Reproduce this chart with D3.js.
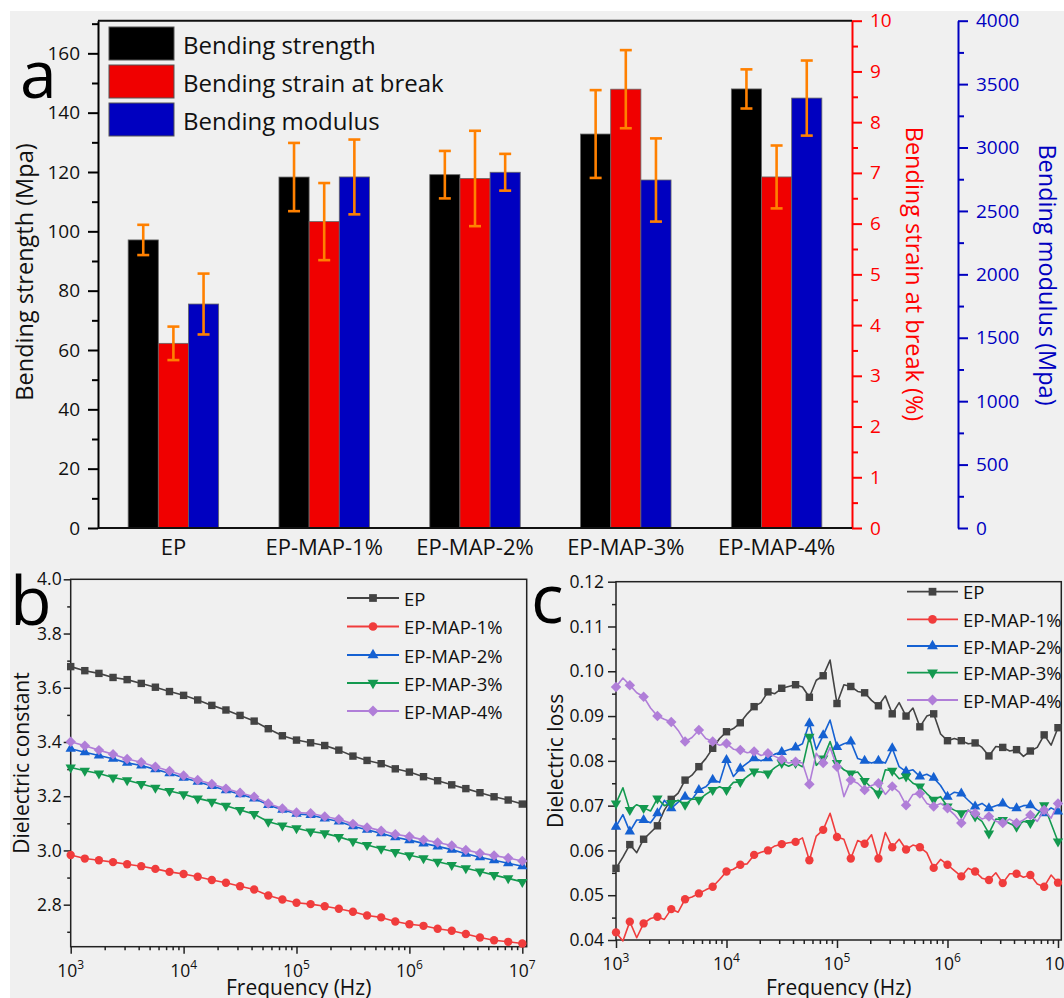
<!DOCTYPE html>
<html>
<head>
<meta charset="utf-8">
<script src="https://cdn.jsdelivr.net/npm/d3@7"></script>
<style>
  body { margin: 0; background: #fff; }
  svg { display: block; font-family: "Open Sans", sans-serif; }
</style>
</head>
<body>
<div id="chart"></div>
<script>
// ----------------- panel a data -----------------
var categories = ["EP", "EP-MAP-1%", "EP-MAP-2%", "EP-MAP-3%", "EP-MAP-4%"];
var strength = [97.1, 118.3, 119.1, 132.8, 148.0];
var strengthErr = [5.1, 11.5, 8.0, 14.8, 6.6];
var strain = [3.64, 6.04, 6.89, 8.65, 6.92];
var strainErr = [0.33, 0.76, 0.94, 0.77, 0.62];
var modulus = [1766, 2768, 2805, 2744, 3390];
var modulusErr = [240, 295, 145, 328, 296];
var barNames = ["Bending strength", "Bending strain at break", "Bending modulus"];
var barColors = ["#000000", "#f00000", "#0000c0"];

// ----------------- panel b / c data -----------------
var seriesNames = ["EP", "EP-MAP-1%", "EP-MAP-2%", "EP-MAP-3%", "EP-MAP-4%"];
var seriesColors = ["#434343", "#f03c3c", "#1561d2", "#13994f", "#b07ed8"];
var seriesSymbols = ["square", "circle", "up", "down", "diamond"];

// log10 of frequency, panel b (8 points per decade)
var logFreqB = [3, 3.125, 3.25, 3.375, 3.5, 3.625, 3.75, 3.875,
  4, 4.125, 4.25, 4.375, 4.5, 4.625, 4.75, 4.875,
  5, 5.125, 5.25, 5.375, 5.5, 5.625, 5.75, 5.875,
  6, 6.125, 6.25, 6.375, 6.5, 6.625, 6.75, 6.875, 7];

var epB = [3.678, 3.663, 3.653, 3.638, 3.630, 3.616, 3.602, 3.586, 3.572, 3.555, 3.535, 3.518, 3.498, 3.477, 3.449, 3.423,
  3.407, 3.397, 3.387, 3.370, 3.348, 3.332, 3.320, 3.301, 3.289, 3.272, 3.257, 3.242, 3.228, 3.213, 3.198, 3.186, 3.171];
var map1B = [2.983, 2.970, 2.964, 2.957, 2.949, 2.942, 2.932, 2.921, 2.913, 2.903, 2.891, 2.881, 2.868, 2.856, 2.834, 2.819,
  2.807, 2.802, 2.794, 2.785, 2.774, 2.760, 2.753, 2.738, 2.728, 2.722, 2.711, 2.704, 2.692, 2.679, 2.669, 2.663, 2.657];
var map2B = [3.375, 3.362, 3.350, 3.338, 3.323, 3.313, 3.299, 3.285, 3.268, 3.253, 3.238, 3.222, 3.207, 3.192, 3.168, 3.150,
  3.135, 3.131, 3.118, 3.107, 3.089, 3.076, 3.063, 3.049, 3.038, 3.026, 3.015, 3.003, 2.988, 2.975, 2.964, 2.953, 2.942];
var map3B = [3.306, 3.294, 3.284, 3.269, 3.259, 3.245, 3.231, 3.219, 3.207, 3.192, 3.180, 3.165, 3.149, 3.134, 3.106, 3.092,
  3.082, 3.070, 3.063, 3.050, 3.034, 3.020, 3.006, 2.994, 2.982, 2.971, 2.958, 2.946, 2.934, 2.922, 2.909, 2.897, 2.884];
var map4B = [3.401, 3.386, 3.370, 3.355, 3.337, 3.325, 3.309, 3.293, 3.276, 3.260, 3.245, 3.228, 3.213, 3.198, 3.173, 3.155,
  3.140, 3.137, 3.125, 3.115, 3.098, 3.085, 3.073, 3.060, 3.051, 3.039, 3.029, 3.018, 3.002, 2.990, 2.981, 2.972, 2.961];

// log10 of frequency, panel c (16 points per decade, marker on every 2nd)
var logFreqC = [3, 3.0625, 3.125, 3.1875, 3.25, 3.3125, 3.375, 3.4375, 3.5, 3.5625, 3.625, 3.6875, 3.75, 3.8125, 3.875, 3.9375,
  4, 4.0625, 4.125, 4.1875, 4.25, 4.3125, 4.375, 4.4375, 4.5, 4.5625, 4.625, 4.6875, 4.75, 4.8125, 4.875, 4.9375,
  5, 5.0625, 5.125, 5.1875, 5.25, 5.3125, 5.375, 5.4375, 5.5, 5.5625, 5.625, 5.6875, 5.75, 5.8125, 5.875, 5.9375,
  6, 6.0625, 6.125, 6.1875, 6.25, 6.3125, 6.375, 6.4375, 6.5, 6.5625, 6.625, 6.6875, 6.75, 6.8125, 6.875, 6.9375, 7];

var epC = [0.0560, 0.0585, 0.0613, 0.0595, 0.0625, 0.0640, 0.0655, 0.0690, 0.0714, 0.0728, 0.0757, 0.0768, 0.0787, 0.0805, 0.0828, 0.0850,
  0.0865, 0.0872, 0.0885, 0.0905, 0.0921, 0.0930, 0.0954, 0.0950, 0.0962, 0.0966, 0.0970, 0.0965, 0.0942, 0.0980, 0.0990, 0.1025,
  0.0928, 0.0970, 0.0966, 0.0955, 0.0952, 0.0935, 0.0923, 0.0945, 0.0905, 0.0930, 0.0900, 0.0918, 0.0876, 0.0900, 0.0905, 0.0860,
  0.0845, 0.0850, 0.0845, 0.0838, 0.0840, 0.0830, 0.0811, 0.0832, 0.0830, 0.0822, 0.0825, 0.0810, 0.0822, 0.0830, 0.0858, 0.0835, 0.0874];
var map1C = [0.0417, 0.0398, 0.0441, 0.0405, 0.0437, 0.0448, 0.0452, 0.0446, 0.0469, 0.0462, 0.0491, 0.0496, 0.0504, 0.0512, 0.0519, 0.0535,
  0.0553, 0.0558, 0.0568, 0.0570, 0.0590, 0.0596, 0.0600, 0.0610, 0.0614, 0.0617, 0.0619, 0.0628, 0.0578, 0.0632, 0.0646, 0.0683,
  0.0630, 0.0625, 0.0582, 0.0622, 0.0615, 0.0635, 0.0582, 0.0640, 0.0607, 0.0625, 0.0602, 0.0612, 0.0607, 0.0595, 0.0561, 0.0580,
  0.0568, 0.0555, 0.0542, 0.0560, 0.0553, 0.0538, 0.0534, 0.0550, 0.0527, 0.0548, 0.0548, 0.0540, 0.0545, 0.0525, 0.0519, 0.0545, 0.0528];
var map2C = [0.0653, 0.0680, 0.0642, 0.0668, 0.0668, 0.0662, 0.0683, 0.0712, 0.0694, 0.0708, 0.0720, 0.0714, 0.0735, 0.0742, 0.0758, 0.0752,
  0.0802, 0.0765, 0.0783, 0.0795, 0.0806, 0.0800, 0.0806, 0.0815, 0.0820, 0.0825, 0.0830, 0.0838, 0.0884, 0.0825, 0.0857, 0.0891,
  0.0831, 0.0838, 0.0843, 0.0805, 0.0800, 0.0795, 0.0800, 0.0795, 0.0828, 0.0787, 0.0776, 0.0780, 0.0765, 0.0770, 0.0762, 0.0745,
  0.0720, 0.0730, 0.0727, 0.0712, 0.0698, 0.0705, 0.0694, 0.0700, 0.0705, 0.0695, 0.0694, 0.0700, 0.0701, 0.0690, 0.0683, 0.0695, 0.0687];
var map3C = [0.0705, 0.0740, 0.0690, 0.0702, 0.0695, 0.0688, 0.0716, 0.0700, 0.0706, 0.0712, 0.0702, 0.0715, 0.0713, 0.0725, 0.0735, 0.0742,
  0.0735, 0.0752, 0.0753, 0.0765, 0.0776, 0.0775, 0.0772, 0.0785, 0.0795, 0.0788, 0.0795, 0.0787, 0.0854, 0.0790, 0.0805, 0.0843,
  0.0795, 0.0780, 0.0772, 0.0775, 0.0755, 0.0740, 0.0727, 0.0780, 0.0778, 0.0760, 0.0765, 0.0750, 0.0743, 0.0727, 0.0713, 0.0720,
  0.0698, 0.0690, 0.0683, 0.0690, 0.0676, 0.0665, 0.0638, 0.0670, 0.0668, 0.0660, 0.0653, 0.0665, 0.0661, 0.0680, 0.0701, 0.0660, 0.0620];
var map4C = [0.0965, 0.0985, 0.0969, 0.0952, 0.0943, 0.0918, 0.0900, 0.0893, 0.0887, 0.0868, 0.0843, 0.0852, 0.0869, 0.0850, 0.0843, 0.0835,
  0.0839, 0.0826, 0.0824, 0.0818, 0.0821, 0.0812, 0.0817, 0.0810, 0.0803, 0.0795, 0.0798, 0.0795, 0.0748, 0.0817, 0.0795, 0.0830,
  0.0787, 0.0720, 0.0757, 0.0750, 0.0735, 0.0745, 0.0750, 0.0725, 0.0743, 0.0730, 0.0701, 0.0725, 0.0727, 0.0705, 0.0698, 0.0705,
  0.0694, 0.0680, 0.0661, 0.0690, 0.0683, 0.0670, 0.0676, 0.0665, 0.0661, 0.0670, 0.0661, 0.0668, 0.0679, 0.0665, 0.0690, 0.0672, 0.0705];

function symbolPath(kind, size) {
  if (kind === "square") return d3.symbol().type(d3.symbolSquare).size(size)();
  if (kind === "circle") return d3.symbol().type(d3.symbolCircle).size(size)();
  if (kind === "diamond") return d3.symbol().type(d3.symbolSquare).size(size)();
  return d3.symbol().type(d3.symbolTriangle).size(size * 0.85)();
}
function symbolRotate(kind) {
  if (kind === "down") return " rotate(180)";
  if (kind === "diamond") return " rotate(45)";
  return "";
}

// frame, ticks and labels shared by panels b and c
function drawLogPanel(svg, box, x, y, yTicks, yMinor, yFmt, tickLen, ylabel) {
  var g = svg.append("g");

  // bottom axis, major and minor ticks
  var majors = [1e3, 1e4, 1e5, 1e6, 1e7];
  var minors = [];
  for (var e = 3; e < 7; e++) {
    for (var m = 2; m < 10; m++) minors.push(m * Math.pow(10, e));
  }
  g.append("g")
    .attr("transform", "translate(0," + box.bottom + ")")
    .call(d3.axisBottom(x).tickValues(majors).tickSize(tickLen).tickFormat(""));
  g.append("g")
    .attr("transform", "translate(0," + box.bottom + ")")
    .call(d3.axisBottom(x).tickValues(minors).tickSize(tickLen / 2).tickFormat(""));

  g.selectAll(".xlab")
    .data([3, 4, 5, 6, 7])
    .enter()
    .append("text")
    .attr("x", function (d) { return x(Math.pow(10, d)); })
    .attr("y", box.bottom + 30)
    .attr("text-anchor", "middle")
    .attr("font-size", 17.5)
    .each(function (d) {
      var t = d3.select(this);
      t.append("tspan").text("10");
      t.append("tspan").attr("dy", -8).attr("font-size", 12).text(d);
    });

  // left axis
  g.append("g")
    .attr("transform", "translate(" + box.left + ",0)")
    .call(d3.axisLeft(y).tickValues(yTicks).tickSize(tickLen).tickPadding(tickLen === 7 ? 2 : 4).tickFormat(d3.format(yFmt)))
    .attr("font-size", 17.5)
    .attr("font-family", "Open Sans");
  g.append("g")
    .attr("transform", "translate(" + box.left + ",0)")
    .call(d3.axisLeft(y).tickValues(yMinor).tickSize(tickLen / 2).tickFormat(""));

  g.selectAll(".domain").remove();
  g.selectAll("line").attr("stroke", "#222").attr("stroke-width", 1.5);
  g.selectAll("text").attr("fill", "#111");

  // box frame
  g.append("rect")
    .attr("x", box.left)
    .attr("y", box.top)
    .attr("width", box.right - box.left)
    .attr("height", box.bottom - box.top)
    .attr("fill", "none")
    .attr("stroke", "#222")
    .attr("stroke-width", 1.5);

  g.append("text")
    .attr("transform", "translate(" + box.titleX + "," + (box.top + box.bottom) / 2 + ") rotate(-90)")
    .attr("text-anchor", "middle")
    .attr("dominant-baseline", "central")
    .attr("font-size", 21)
    .attr("fill", "#111")
    .text(ylabel);

  g.append("text")
    .attr("x", (box.left + box.right) / 2)
    .attr("y", 995)
    .attr("text-anchor", "middle")
    .attr("font-size", 21)
    .attr("fill", "#111")
    .text("Frequency (Hz)");
}

function drawSeries(svg, logFreq, rows, x, y, markerStep) {
  rows.forEach(function (vals, i) {
    var pts = vals.map(function (v, j) { return [Math.pow(10, logFreq[j]), v]; });
    svg.append("path")
      .datum(pts)
      .attr("fill", "none")
      .attr("stroke", seriesColors[i])
      .attr("stroke-width", 1.6)
      .attr("stroke-linejoin", "round")
      .attr("d", d3.line()
        .x(function (d) { return x(d[0]); })
        .y(function (d) { return y(d[1]); }));
    svg.append("g")
      .selectAll("path")
      .data(pts.filter(function (d, j) { return j % markerStep === 0; }))
      .enter()
      .append("path")
      .attr("d", symbolPath(seriesSymbols[i], 55))
      .attr("fill", seriesColors[i])
      .attr("transform", function (d) {
        return "translate(" + x(d[0]) + "," + y(d[1]) + ")" + symbolRotate(seriesSymbols[i]);
      });
  });
}

function drawLineLegend(svg, x1, x2, textX, rowY) {
  seriesNames.forEach(function (name, i) {
    var yy = rowY[i];
    svg.append("line")
      .attr("x1", x1).attr("x2", x2).attr("y1", yy).attr("y2", yy)
      .attr("stroke", seriesColors[i]).attr("stroke-width", 1.8);
    svg.append("path")
      .attr("d", symbolPath(seriesSymbols[i], 60))
      .attr("fill", seriesColors[i])
      .attr("transform", "translate(" + (x1 + x2) / 2 + "," + yy + ")" + symbolRotate(seriesSymbols[i]));
    svg.append("text")
      .attr("x", textX).attr("y", yy)
      .attr("dominant-baseline", "central")
      .attr("font-size", 18.5)
      .attr("fill", "#111")
      .text(name);
  });
}

function init() {
  var svg = d3.select("#chart")
    .append("svg")
    .attr("width", 1064)
    .attr("height", 998);

  // grey page background
  svg.append("rect")
    .attr("x", 10).attr("y", 11)
    .attr("width", 1054).attr("height", 987)
    .attr("fill", "#f0f0f0");

  // ----------------- panel a: grouped bars on three axes -----------------
  var a = { left: 98, right: 852, top: 20.7, bottom: 528, blueX: 958 };

  var x0 = d3.scaleBand().domain(categories).range([a.left, a.right]).paddingInner(0.4).paddingOuter(0.2);
  var x1 = d3.scaleBand().domain([0, 1, 2]).range([0, x0.bandwidth()]);
  var yLeft = d3.scaleLinear().domain([0, 171]).range([a.bottom, a.top]);
  var yRed = d3.scaleLinear().domain([0, 10]).range([a.bottom, a.top]);
  var yBlue = d3.scaleLinear().domain([0, 4000]).range([a.bottom, a.top]);

  var groups = [
    { vals: strength, errs: strengthErr, scale: yLeft },
    { vals: strain, errs: strainErr, scale: yRed },
    { vals: modulus, errs: modulusErr, scale: yBlue }
  ];

  var barsG = svg.append("g");
  groups.forEach(function (grp, k) {
    barsG.selectAll(".bar" + k)
      .data(categories)
      .enter()
      .append("rect")
      .attr("x", function (d) { return x0(d) + x1(k); })
      .attr("y", function (d, i) { return grp.scale(grp.vals[i]); })
      .attr("width", x1.bandwidth())
      .attr("height", function (d, i) { return a.bottom - grp.scale(grp.vals[i]); })
      .attr("fill", barColors[k])
      .attr("stroke", "#666")
      .attr("stroke-width", 0.8);
  });

  // error bars
  groups.forEach(function (grp, k) {
    categories.forEach(function (c, i) {
      var cx = x0(c) + x1(k) + x1.bandwidth() / 2;
      var hi = grp.scale(grp.vals[i] + grp.errs[i]);
      var lo = grp.scale(grp.vals[i] - grp.errs[i]);
      var eg = barsG.append("g").attr("stroke", "#ff8000").attr("stroke-width", 2.6);
      eg.append("line").attr("x1", cx).attr("x2", cx).attr("y1", hi).attr("y2", lo);
      eg.append("line").attr("x1", cx - 6).attr("x2", cx + 6).attr("y1", hi).attr("y2", hi);
      eg.append("line").attr("x1", cx - 6).attr("x2", cx + 6).attr("y1", lo).attr("y2", lo);
    });
  });

  // left axis
  var gl = svg.append("g")
    .attr("transform", "translate(" + a.left + ",0)")
    .call(d3.axisLeft(yLeft).tickValues(d3.range(0, 161, 20)).tickSize(10).tickSizeOuter(0).tickPadding(8))
    .attr("font-size", 19).attr("font-family", "Open Sans");
  svg.append("g")
    .attr("transform", "translate(" + a.left + ",0)")
    .call(d3.axisLeft(yLeft).tickValues(d3.range(10, 171, 20)).tickSize(6).tickFormat(""))
    .select(".domain").remove();

  // red axis
  var gr = svg.append("g")
    .attr("transform", "translate(" + a.right + ",0)")
    .call(d3.axisRight(yRed).tickValues(d3.range(0, 11, 1)).tickSize(10).tickSizeOuter(0).tickPadding(8))
    .attr("font-size", 19).attr("font-family", "Open Sans");
  var grm = svg.append("g")
    .attr("transform", "translate(" + a.right + ",0)")
    .call(d3.axisRight(yRed).tickValues(d3.range(0.5, 10, 1)).tickSize(6).tickFormat(""));
  grm.select(".domain").remove();
  gr.selectAll("path, line").attr("stroke", "#ff0000");
  grm.selectAll("line").attr("stroke", "#ff0000");
  gr.selectAll("text").attr("fill", "#ff0000");

  // blue axis
  var gb = svg.append("g")
    .attr("transform", "translate(" + a.blueX + ",0)")
    .call(d3.axisRight(yBlue).tickValues(d3.range(0, 4001, 500)).tickSize(10).tickSizeOuter(0).tickPadding(8).tickFormat(d3.format("d")))
    .attr("font-size", 19).attr("font-family", "Open Sans");
  var gbm = svg.append("g")
    .attr("transform", "translate(" + a.blueX + ",0)")
    .call(d3.axisRight(yBlue).tickValues(d3.range(250, 4000, 500)).tickSize(6).tickFormat(""));
  gbm.select(".domain").remove();
  gb.selectAll("path, line").attr("stroke", "#0000c0");
  gbm.selectAll("line").attr("stroke", "#0000c0");
  gb.selectAll("text").attr("fill", "#0000c0");

  svg.selectAll(".tick line, .domain").attr("stroke-width", 2);
  gl.selectAll("text").attr("fill", "#111");

  // bottom axis line, top border and category labels
  svg.append("line")
    .attr("x1", a.left).attr("x2", a.right).attr("y1", a.bottom).attr("y2", a.bottom)
    .attr("stroke", "#111").attr("stroke-width", 2);
  svg.append("line")
    .attr("x1", a.left).attr("x2", a.right).attr("y1", a.top).attr("y2", a.top)
    .attr("stroke", "#111").attr("stroke-width", 2);
  svg.append("g")
    .selectAll("text")
    .data(categories)
    .enter()
    .append("text")
    .attr("x", function (d) { return x0(d) + x0.bandwidth() / 2; })
    .attr("y", 555)
    .attr("text-anchor", "middle")
    .attr("font-size", 22)
    .attr("fill", "#111")
    .text(function (d) { return d; });

  // axis titles
  svg.append("text")
    .attr("transform", "translate(24,272) rotate(-90)")
    .attr("text-anchor", "middle").attr("dominant-baseline", "central")
    .attr("font-size", 23.5).attr("fill", "#111")
    .text("Bending strength (Mpa)");
  svg.append("text")
    .attr("transform", "translate(915,274) rotate(90)")
    .attr("text-anchor", "middle").attr("dominant-baseline", "central")
    .attr("font-size", 23.5).attr("fill", "#ff0000")
    .text("Bending strain at break (%)");
  svg.append("text")
    .attr("transform", "translate(1048,275) rotate(90)")
    .attr("text-anchor", "middle").attr("dominant-baseline", "central")
    .attr("font-size", 23.5).attr("fill", "#0000c0")
    .text("Bending modulus (Mpa)");

  // legend of panel a
  barNames.forEach(function (name, i) {
    svg.append("rect")
      .attr("x", 109).attr("y", 27 + i * 38)
      .attr("width", 65).attr("height", 33)
      .attr("fill", barColors[i]).attr("stroke", "#555").attr("stroke-width", 1);
    svg.append("text")
      .attr("x", 183).attr("y", 44 + i * 38)
      .attr("dominant-baseline", "central")
      .attr("font-size", 24).attr("fill", "#111")
      .text(name);
  });

  // ----------------- panel b: dielectric constant -----------------
  var b = { left: 70.7, right: 526.7, top: 579.3, bottom: 946.7, titleX: 20.5 };
  var xB = d3.scaleLog().domain([1e3, Math.pow(10, 7.039)]).range([b.left, b.right]);
  var yB = d3.scaleLinear().domain([2.645, 4.0]).range([b.bottom, b.top]);
  drawLogPanel(svg, b, xB, yB, [2.8, 3.0, 3.2, 3.4, 3.6, 3.8, 4.0], [2.7, 2.9, 3.1, 3.3, 3.5, 3.7, 3.9], ".1f", 7, "Dielectric constant");
  drawSeries(svg, logFreqB, [epB, map1B, map2B, map3B, map4B], xB, yB, 1);
  drawLineLegend(svg, 347, 399, 404, [598, 626.5, 655, 683, 711]);

  // ----------------- panel c: dielectric loss -----------------
  var c = { left: 616, right: 1061.3, top: 581.7, bottom: 940, titleX: 555 };
  var xC = d3.scaleLog().domain([1e3, Math.pow(10, 7.03)]).range([c.left, c.right]);
  var yC = d3.scaleLinear().domain([0.04, 0.12]).range([c.bottom, c.top]);
  drawLogPanel(svg, c, xC, yC, d3.range(0.04, 0.1201, 0.01), d3.range(0.045, 0.12, 0.01), ".2f", 8, "Dielectric loss");
  drawSeries(svg, logFreqC, [epC, map1C, map2C, map3C, map4C], xC, yC, 2);
  drawLineLegend(svg, 907, 958, 963, [591.7, 619.3, 646, 672.7, 700]);

  // panel letters
  svg.append("text").attr("x", 20).attr("y", 98).attr("font-size", 66).attr("fill", "#000").text("a");
  svg.append("text").attr("x", 10).attr("y", 625).attr("font-size", 68).attr("fill", "#000").text("b");
  svg.append("text").attr("x", 531).attr("y", 623).attr("font-size", 68).attr("fill", "#000").text("c");
}

window.onload = init;
</script>
</body>
</html>
